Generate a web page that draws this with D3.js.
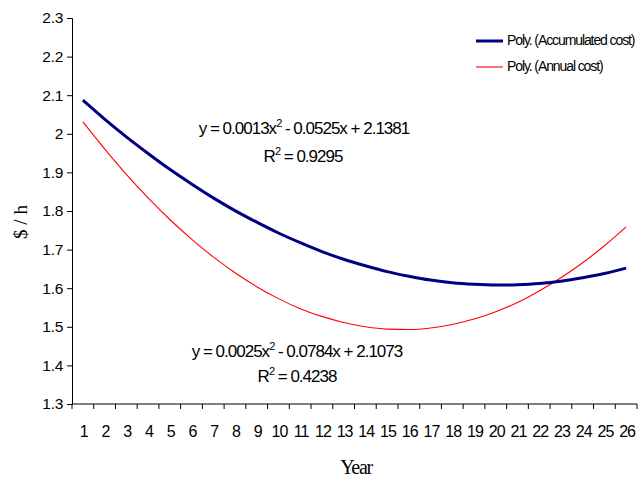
<!DOCTYPE html>
<html>
<head>
<meta charset="utf-8">
<script src="https://cdn.jsdelivr.net/npm/d3@7"></script>
<style>
body { margin: 0; background: #fff; }
svg text { font-family: "Liberation Sans", Arial, sans-serif; }
.serif { font-family: "Liberation Serif", "Times New Roman", serif; }
</style>
</head>
<body>
<svg width="642" height="477"></svg>
<script>
// years on the x axis
var years = d3.range(1, 27);
// values, $/h
var accumulated = [2.087, 2.038, 1.992, 1.949, 1.908, 1.870, 1.834, 1.801, 1.771, 1.743,
  1.718, 1.695, 1.675, 1.658, 1.643, 1.631, 1.621, 1.614, 1.610, 1.608,
  1.609, 1.612, 1.618, 1.627, 1.638, 1.652];
var annual = [2.031, 1.961, 1.895, 1.834, 1.778, 1.727, 1.681, 1.640, 1.604, 1.573,
  1.547, 1.527, 1.511, 1.500, 1.494, 1.493, 1.497, 1.506, 1.520, 1.539,
  1.563, 1.593, 1.627, 1.666, 1.710, 1.759];
var yTicks = [1.3, 1.4, 1.5, 1.6, 1.7, 1.8, 1.9, 2, 2.1, 2.2, 2.3];
var seriesNames = ["Poly. (Accumulated cost)", "Poly. (Annual cost)"];

var svg = d3.select("svg");
var plotLeft = 72, plotRight = 637, plotTop = 18, plotBottom = 404;

var x = d3.scaleBand().domain(years).range([plotLeft, plotRight]);
var y = d3.scaleLinear().domain([1.3, 2.3]).range([plotBottom, plotTop]);

// y axis
var yAxis = svg.append("g")
  .attr("transform", "translate(" + plotLeft + ",0)")
  .call(d3.axisLeft(y).tickValues(yTicks).tickSize(5).tickPadding(4)
    .tickFormat(function(d) { return d3.format("")(+d.toFixed(1)); }));
yAxis.select(".domain").attr("stroke", "#000");
yAxis.selectAll("text").style("font-size", "15.5px").attr("fill", "#000").attr("letter-spacing", "-0.3");

// x axis: ticks sit on band edges, labels at band centres
var xg = svg.append("g").attr("transform", "translate(0," + plotBottom + ")");
xg.append("line").attr("x1", plotLeft).attr("x2", plotRight).attr("stroke", "#000");
xg.selectAll(".tk").data(years.concat([27])).enter().append("line")
  .attr("x1", function(d) { return d == 27 ? plotRight : x(d); })
  .attr("x2", function(d) { return d == 27 ? plotRight : x(d); })
  .attr("y1", 0).attr("y2", 5).attr("stroke", "#000");
xg.selectAll(".lb").data(years).enter().append("text")
  .attr("x", function(d) { return x(d) + x.bandwidth() / 2 + 1; })
  .attr("y", 33)
  .attr("text-anchor", "middle")
  .attr("letter-spacing", "-0.9")
  .style("font-size", "16px")
  .text(function(d) { return d; });

// axis titles
svg.append("text").attr("class", "serif")
  .attr("transform", "translate(27,222) rotate(-90)")
  .attr("text-anchor", "middle")
  .style("font-size", "19px")
  .text("$ / h");
svg.append("text").attr("class", "serif")
  .attr("x", 356).attr("y", 474)
  .attr("text-anchor", "middle")
  .attr("letter-spacing", "-1.3")
  .style("font-size", "20px")
  .text("Year");

var line = d3.line()
  .x(function(d, i) { return x(years[i]) + x.bandwidth() / 2; })
  .y(function(d) { return y(d); })
  .curve(d3.curveMonotoneX);

svg.append("path").datum(annual)
  .attr("d", line).attr("fill", "none")
  .attr("stroke", "#ff0000").attr("stroke-width", 1.1);
svg.append("path").datum(accumulated)
  .attr("d", line).attr("fill", "none")
  .attr("stroke", "#000080").attr("stroke-width", 3);

// trendline equations
function equation(cx, cy, a, b) {
  var t = svg.append("text").attr("x", cx).attr("y", cy)
    .attr("text-anchor", "middle").attr("letter-spacing", "-1")
    .style("font-size", "17px");
  t.append("tspan").text(a);
  t.append("tspan").attr("dy", -7).style("font-size", "11px").text("2");
  t.append("tspan").attr("dy", 7).text(b);
}
function rsq(cx, cy, v) {
  var t = svg.append("text").attr("x", cx).attr("y", cy)
    .attr("text-anchor", "middle").attr("letter-spacing", "-1")
    .style("font-size", "17px");
  t.append("tspan").text("R");
  t.append("tspan").attr("dy", -7).style("font-size", "11px").text("2");
  t.append("tspan").attr("dy", 7).text(" = " + v);
}
equation(304, 134, "y = 0.0013x", " - 0.0525x + 2.1381");
rsq(303, 162, "0.9295");
equation(297, 357, "y = 0.0025x", " - 0.0784x + 2.1073");
rsq(297, 382, "0.4238");

// legend
var legend = svg.append("g");
var colors = ["#000080", "#ff0000"], widths = [3, 1.1];
seriesNames.forEach(function(name, i) {
  var ly = 41 + i * 26;
  legend.append("line").attr("x1", 476).attr("x2", 503)
    .attr("y1", ly).attr("y2", ly)
    .attr("stroke", colors[i]).attr("stroke-width", widths[i]);
  legend.append("text").attr("x", 507).attr("y", ly + 4)
    .attr("letter-spacing", "-1.1")
    .style("font-size", "14px").text(name);
});
</script>
</body>
</html>
